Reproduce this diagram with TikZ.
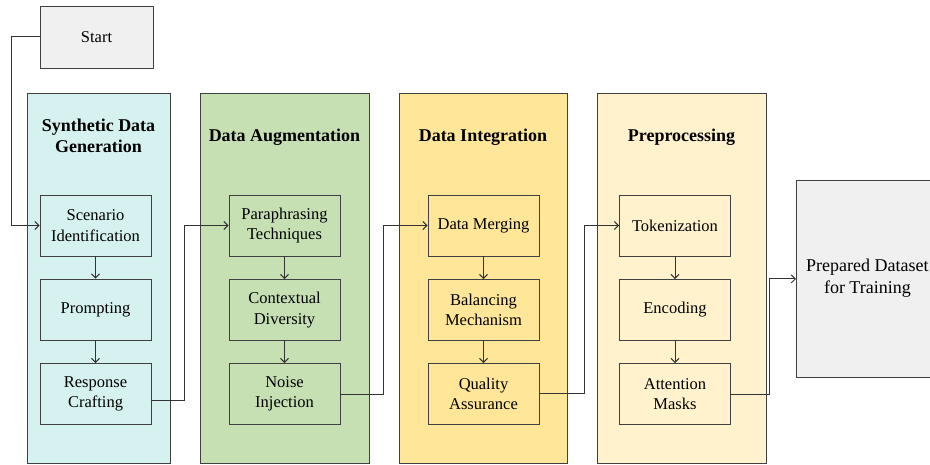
\documentclass[tikz,border=0pt]{standalone}
\usepackage{fontspec}
\setmainfont{Liberation Serif}
\usetikzlibrary{arrows.meta}
\definecolor{startgray}{HTML}{F0F0F0}
\definecolor{synthcyan}{HTML}{D5F2F0}
\definecolor{auggreen}{HTML}{C6E0B4}
\definecolor{integyellow}{HTML}{FFE699}
\definecolor{prepcream}{HTML}{FFF2CC}
\definecolor{edge}{HTML}{404040}
\tikzset{
  stepbox/.style={draw=edge, line width=0.9pt, minimum width=111pt, minimum height=61pt,
    align=center, inner sep=2pt, font=\fontsize{16.5}{20.5}\selectfont},
  paneltitle/.style={align=center, font=\fontsize{18}{20.5}\selectfont\bfseries},
  flow/.style={-{Straight Barb[length=4pt, width=8pt]}, line width=1pt, color=black!80}
}
\begin{document}
\begin{tikzpicture}[x=1pt, y=-1pt]
    \useasboundingbox (0,0) rectangle (930,465);
    % panels
    \fill[synthcyan] (27,93) rectangle (170,463);
    \draw[edge, line width=0.9pt] (27,93) rectangle (170,463);
    \fill[auggreen] (200,93) rectangle (369,463);
    \draw[edge, line width=0.9pt] (200,93) rectangle (369,463);
    \fill[integyellow] (399,93) rectangle (567,463);
    \draw[edge, line width=0.9pt] (399,93) rectangle (567,463);
    \fill[prepcream] (597,93) rectangle (766,463);
    \draw[edge, line width=0.9pt] (597,93) rectangle (766,463);
    \node[paneltitle] (t-synth) at (98.5,136) {Synthetic Data\\Generation};
    \node[paneltitle] (t-aug) at (284.5,137) {Data Augmentation};
    \node[paneltitle] (t-integ) at (483,137) {Data Integration};
    \node[paneltitle] (t-prep) at (681.5,137) {Preprocessing};
    % start and end
    \node[stepbox, fill=startgray, minimum width=113pt, minimum height=62pt] (start) at (96.5,37) {Start};
    \node[draw=edge, line width=0.9pt, fill=startgray, minimum width=150pt, minimum height=197pt,
      anchor=north west, inner sep=0pt] (final) at (796,180) {};
    \node[align=center, font=\fontsize{18}{22}\selectfont, anchor=west, inner sep=0pt] (final-txt) at (806,278) {Prepared Dataset\\for Training};
    % steps
    \node[stepbox] (s-1) at (95.5,225.5) {Scenario\\Identification};
    \node[stepbox] (s-2) at (95.5,309.5) {Prompting};
    \node[stepbox] (s-3) at (95.5,394) {Response\\Crafting};
    \node[stepbox] (a-1) at (284.5,225.5) {Paraphrasing\\Techniques};
    \node[stepbox] (a-2) at (284.5,310) {Contextual\\Diversity};
    \node[stepbox] (a-3) at (284.5,394) {Noise\\Injection};
    \node[stepbox] (i-1) at (483.5,225.5) {Data Merging};
    \node[stepbox] (i-2) at (483.5,310) {Balancing\\Mechanism};
    \node[stepbox] (i-3) at (483.5,394) {Quality\\Assurance};
    \node[stepbox] (p-1) at (675,225.5) {Tokenization};
    \node[stepbox] (p-2) at (675,310) {Encoding};
    \node[stepbox] (p-3) at (675,394) {Attention\\Masks};
    % vertical arrows
    \foreach \c in {s, a, i, p} {
      \draw[flow] (\c-1) -- (\c-2);
      \draw[flow] (\c-2) -- (\c-3);
    }
    % links between panels
    \draw[flow] (start.west) -- ++(-28,0) |- (s-1.west);
    \draw[flow] ([yshift=-6pt]s-3.east) -- ++(33,0) |- (a-1.west);
    \draw[flow] (a-3.east) -- ++(43,0) |- (i-1.west);
    \draw[flow] ([yshift=1pt]i-3.east) -- ++(45,0) |- (p-1.west);
    \draw[flow] (p-3.east) -- ++(39,0) |- (final.west);
  \end{tikzpicture}
\end{document}
